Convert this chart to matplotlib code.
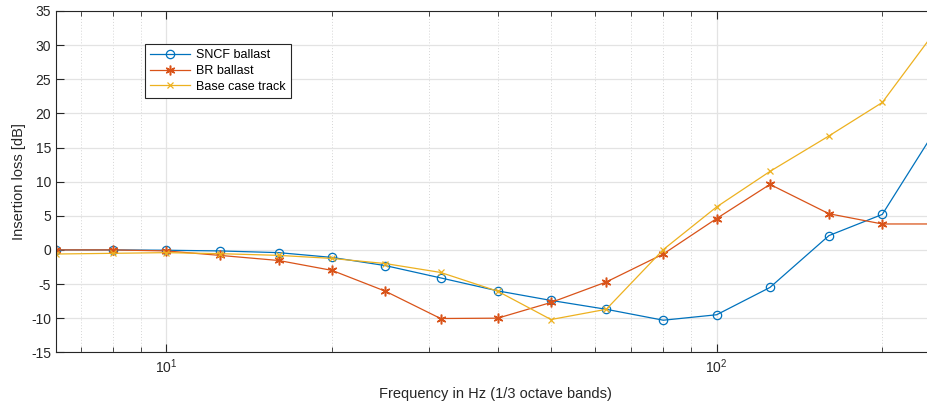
import numpy as np
import matplotlib
matplotlib.use("Agg")
import matplotlib.pyplot as plt
from matplotlib.ticker import LogLocator, NullFormatter, MultipleLocator

# Bandas de tercio de octava [Hz]
frecuencias = [6.3, 8, 10, 12.5, 16, 20, 25, 31.5, 40, 50, 63, 80, 100, 125, 160, 200, 250]

# Pérdida por inserción [dB]
sncf_ballast = [0.0, 0.0, -0.05, -0.15, -0.4, -1.1, -2.3, -4.1, -6.0, -7.4, -8.7, -10.3, -9.5, -5.5, 2.1, 5.2, 17.6]
br_ballast = [0.0, 0.0, -0.15, -0.8, -1.55, -3.0, -6.05, -10.05, -10.0, -7.7, -4.7, -0.6, 4.6, 9.6, 5.3, 3.8, 3.8]
base_case = [-0.6, -0.5, -0.4, -0.55, -0.8, -1.25, -2.0, -3.3, -6.05, -10.2, -8.7, 0.05, 6.3, 11.5, 16.7, 21.6, 32.1]

plt.rcParams['font.family'] = ['Liberation Sans', 'DejaVu Sans']
plt.rcParams['axes.unicode_minus'] = False

fig = plt.figure(figsize=(9.28, 4.03), dpi=100)
# el eje derecho queda un poco fuera de la imagen (recorte original)
ax = fig.add_axes([56 / 928, 50.7 / 403, 879.6 / 928, 341.3 / 403])

ax.plot(frecuencias, sncf_ballast, color='#0072BD', marker='o', markerfacecolor='none',
        markersize=6, markeredgewidth=0.9, linewidth=0.9, label='SNCF ballast')
ax.plot(frecuencias, br_ballast, color='#D95319', marker=(6, 2, 0), markersize=7,
        markeredgewidth=1.1, linewidth=0.9, label='BR ballast')
ax.plot(frecuencias, base_case, color='#EDB120', marker='x', markersize=5,
        markeredgewidth=0.9, linewidth=0.9, label='Base case track')

ax.set_xscale('log')
ax.set_xlim(6.3, 250)
ax.set_ylim(-15, 35)
ax.yaxis.set_major_locator(MultipleLocator(5))
ax.xaxis.set_major_locator(LogLocator(base=10))
ax.xaxis.set_minor_locator(LogLocator(base=10, subs=np.arange(2, 10)))
ax.xaxis.set_minor_formatter(NullFormatter())

ax.grid(True, which='major', color='#E3E3E3', linewidth=0.9, linestyle='-')
ax.grid(True, which='minor', axis='x', color='#D5D5D5', linewidth=0.7, linestyle=(0, (1, 2)))
ax.set_axisbelow(True)

ax.tick_params(which='both', direction='in', top=True, right=True, colors='#262626',
               labelsize=10, labelcolor='#262626')
ax.tick_params(which='major', length=6, width=0.8)
ax.tick_params(which='minor', length=3.5, width=0.6)
for s in ax.spines.values():
    s.set_color('#262626')
    s.set_linewidth(0.8)

ax.set_xlabel('Frequency in Hz (1/3 octave bands)', fontsize=10.5, color='#262626', labelpad=8)
ax.set_ylabel('Insertion loss [dB]', fontsize=10.5, color='#262626', labelpad=4)

leg = ax.legend(loc='upper left', bbox_to_anchor=(0.1008, 0.9024), fontsize=9,
                fancybox=False, framealpha=1, edgecolor='#262626', borderaxespad=0,
                handlelength=3.2, handletextpad=0.5, labelspacing=0.3, borderpad=0.4)
leg.get_frame().set_linewidth(0.8)

fig.savefig('out.png', dpi=100)
